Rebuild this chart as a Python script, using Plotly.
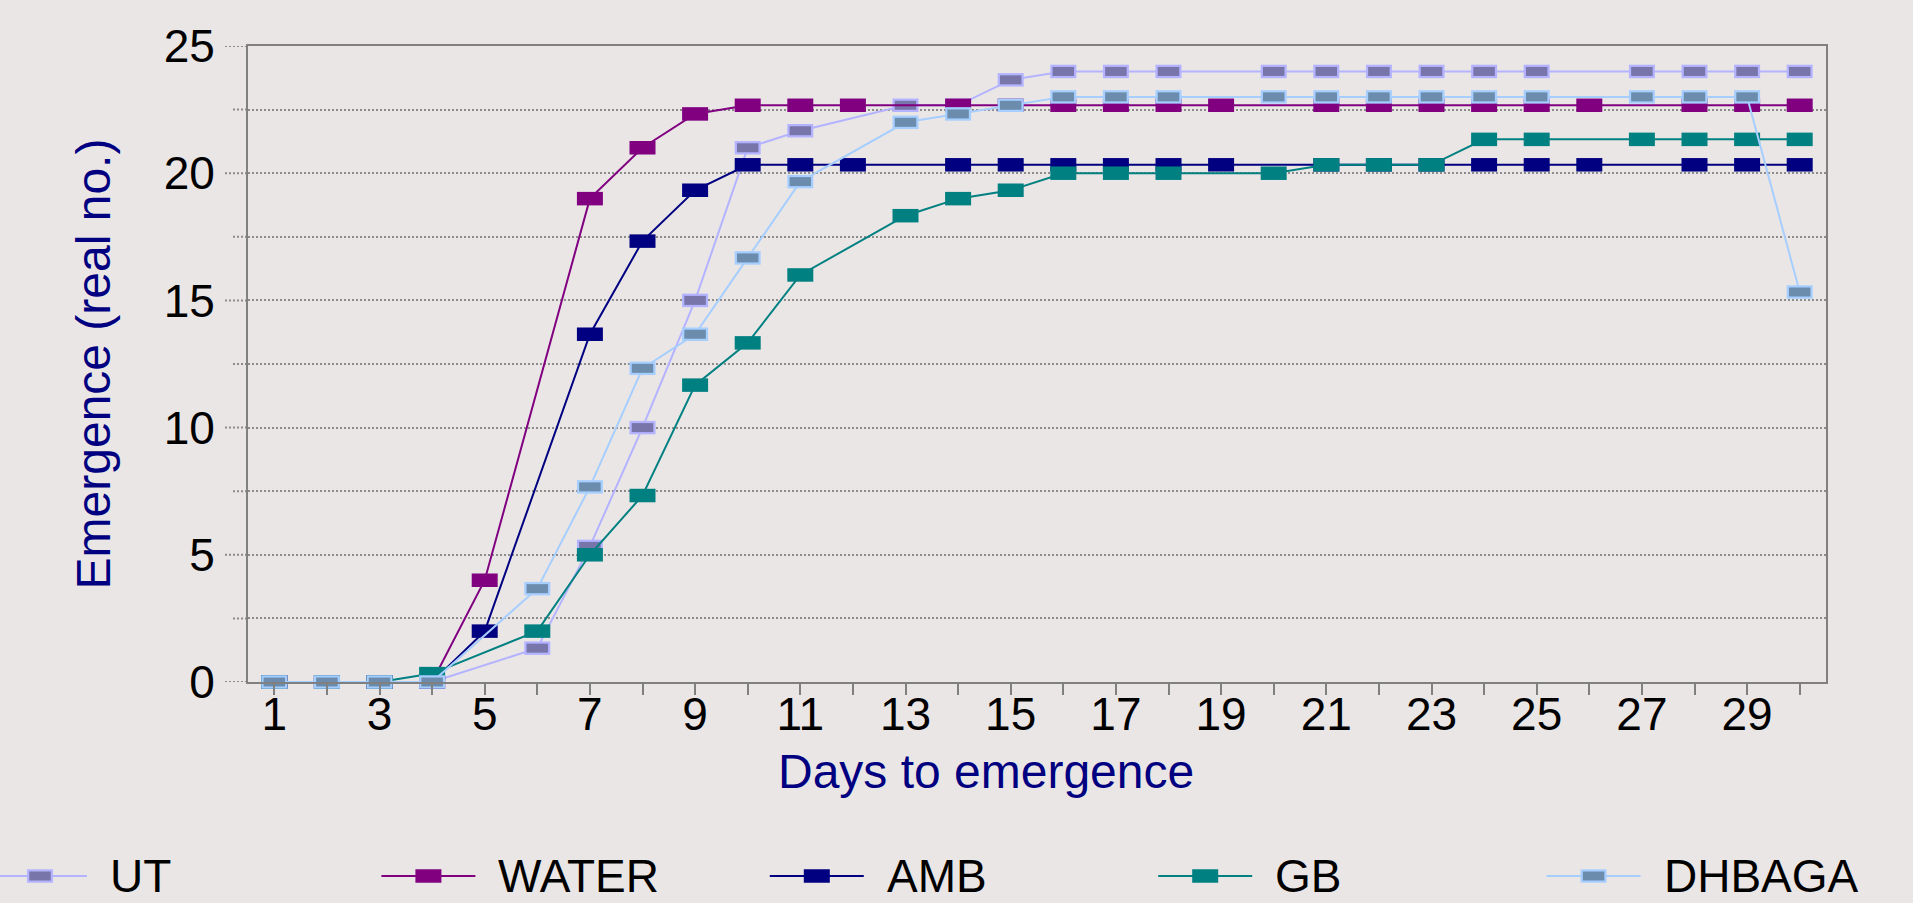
import plotly.graph_objects as go

# ---------------- data ----------------
days = list(range(1, 31))
x_tick_text = [str(d) if d % 2 else "" for d in days]
y_major_ticks = [0, 5, 10, 15, 20, 25]
y_major_text = ["0", "5", "10", "15", "20", "25"]
y_minor_ticks = [2.5, 7.5, 12.5, 17.5, 22.5]

series_names = ["UT", "WATER", "AMB", "GB", "DHBAGA"]
ut = [0, 0, 0, 0, None, 1.33, 5.33, 10, 15, 21, 21.67, None, 22.67, 22.67, 23.67,
      24, 24, 24, None, 24, 24, 24, 24, 24, 24, None, 24, 24, 24, 24]
water = [0, 0, 0, 0, 4, None, 19, 21, 22.33, 22.67, 22.67, 22.67, None, 22.67, 22.67,
         22.67, 22.67, 22.67, 22.67, None, 22.67, 22.67, 22.67, 22.67, 22.67, 22.67, None,
         22.67, 22.67, 22.67]
amb = [0, 0, 0, 0, 2, None, 13.67, 17.33, 19.33, 20.33, 20.33, 20.33, None, 20.33, 20.33,
       20.33, 20.33, 20.33, 20.33, None, 20.33, 20.33, 20.33, 20.33, 20.33, 20.33, None,
       20.33, 20.33, 20.33]
gb = [0, 0, 0, 0.33, None, 2, 5, 7.33, 11.67, 13.33, 16, None, 18.33, 19, 19.33,
      20, 20, 20, None, 20, 20.33, 20.33, 20.33, 21.33, 21.33, None, 21.33, 21.33, 21.33, 21.33]
dhbaga = [0, 0, 0, 0, None, 3.67, 7.67, 12.33, 13.67, 16.67, 19.67, None, 22, 22.33, 22.67,
          23, 23, 23, None, 23, 23, 23, 23, 23, 23, None, 23, 23, 23, 15.33]
series_values = [ut, water, amb, gb, dhbaga]

x_title = "Days to emergence"
y_title = "Emergence (real no.)"

# ---------------- styles ----------------
line_colors = ["#B3B3FF", "#800080", "#000080", "#008080", "#A6CEFF"]
fill_colors = ["#7875AB", "#800080", "#000080", "#008080", "#6B8CAD"]
bordered = [True, False, False, False, True]

W, H = 1913, 903
PL, PR, PT, PB = 248, 1826, 46, 682          # plot area in page pixels
BG = "#EBE6E6"
GRID = "#8C8C8C"
AXIS = "#808080"
NAVY = "#000080"
FONT = "Liberation Sans, Arial, Helvetica, sans-serif"
TICK_FONT = 46
MK_LEN, MK_H = 26, 13.5      # marker rectangle (outer)
IN_LEN, IN_H = 21.5, 9       # inner fill for bordered markers
LINE_W = 2
DOT = "2px,2px"
MAJ_TICK, MIN_TICK = 23, 15

# legend layout (page pixels)
LEG_X0, LEG_DX, LEG_Y = 40, 388.4, 876
LEG_HALF, LEG_TXT = 47, 68


def add_series(fig, i, x_line, y_line, x_mk, y_mk, xa, ya, clip=True):
    lc, fc = line_colors[i], fill_colors[i]
    outer = lc if bordered[i] else fc
    fig.add_trace(go.Scatter(
        x=x_line, y=y_line, mode="lines", connectgaps=True, name=series_names[i],
        line=dict(color=lc, width=LINE_W), xaxis=xa, yaxis=ya,
        showlegend=False, hoverinfo="skip"))
    fig.add_trace(go.Scatter(
        x=x_mk, y=y_mk, mode="markers", name=series_names[i], cliponaxis=clip,
        marker=dict(symbol="line-ew", size=MK_LEN / 1.4, color=outer,
                    line=dict(color=outer, width=MK_H)),
        xaxis=xa, yaxis=ya, showlegend=False))
    if bordered[i]:
        fig.add_trace(go.Scatter(
            x=x_mk, y=y_mk, mode="markers", name=series_names[i], cliponaxis=clip,
            marker=dict(symbol="line-ew", size=IN_LEN / 1.4, color=fc,
                        line=dict(color=fc, width=IN_H)),
            xaxis=xa, yaxis=ya, showlegend=False, hoverinfo="skip"))


fig = go.Figure()

# main series
for i, vals in enumerate(series_values):
    add_series(fig, i, days, vals, days, vals, "x", "y", clip=False)

# custom legend drawn on a full-page pixel axis
annotations = []
for i, name in enumerate(series_names):
    cx = LEG_X0 + i * LEG_DX
    add_series(fig, i, [cx - LEG_HALF, cx + LEG_HALF], [LEG_Y, LEG_Y], [cx], [LEG_Y], "x3", "y3")
    annotations.append(dict(
        text=name, xref="paper", yref="paper", x=(cx + LEG_TXT) / W, y=1 - LEG_Y / H,
        xanchor="left", yanchor="middle", showarrow=False,
        font=dict(family=FONT, size=46, color="black")))

annotations.append(dict(
    text=x_title, xref="paper", yref="paper", x=986 / W, y=1 - 771 / H,
    xanchor="center", yanchor="middle", showarrow=False,
    font=dict(family=FONT, size=48, color=NAVY)))

# dotted tick extensions of the gridlines, left of the value axis
shapes = []
for v, ln in [(v, MAJ_TICK) for v in y_major_ticks] + [(v, MIN_TICK) for v in y_minor_ticks]:
    shapes.append(dict(type="line", xref="x domain", yref="y",
                       x0=-ln / (PR - PL), x1=0, y0=v, y1=v,
                       line=dict(color=GRID, width=2, dash=DOT), layer="below"))

fig.update_layout(
    width=W, height=H,
    margin=dict(l=0, r=0, t=0, b=0, pad=0),
    paper_bgcolor=BG, plot_bgcolor="rgba(0,0,0,0)",
    showlegend=False,
    font=dict(family=FONT, color="black"),
    annotations=annotations,
    shapes=shapes,
    xaxis=dict(
        domain=[PL / W, PR / W], range=[0.5, 30.5], anchor="y",
        tickmode="array", tickvals=days, ticktext=x_tick_text,
        ticks="outside", ticklen=11, tickwidth=2, tickcolor=AXIS,
        tickfont=dict(family=FONT, size=TICK_FONT, color="black"), ticklabelstandoff=-20,
        showline=True, linecolor=AXIS, linewidth=2, mirror=True,
        showgrid=False, zeroline=False, automargin=False, fixedrange=True),
    xaxis2=dict(
        overlaying="x", anchor="y", range=[0.5, 30.5],
        tickmode="array", tickvals=days, ticks="inside", ticklen=11, tickwidth=2,
        tickcolor=AXIS, showticklabels=False, showline=False, showgrid=False,
        zeroline=False, fixedrange=True),
    yaxis=dict(
        domain=[1 - PB / H, 1 - PT / H], range=[0, 25], anchor="x",
        tickmode="array", tickvals=y_major_ticks, ticktext=y_major_text,
        ticks="outside", ticklen=22, tickwidth=1, tickcolor="rgba(0,0,0,0)",
        tickfont=dict(family=FONT, size=TICK_FONT, color="black"), ticklabelstandoff=0,
        showgrid=True, gridcolor=GRID, gridwidth=2, griddash=DOT,
        minor=dict(tickvals=y_minor_ticks, showgrid=True, gridcolor=GRID, gridwidth=2,
                   griddash=DOT),
        showline=True, linecolor=AXIS, linewidth=2, mirror=True, zeroline=False,
        title=dict(text=y_title, font=dict(family=FONT, size=48, color=NAVY), standoff=38),
        automargin=False, fixedrange=True),
    xaxis3=dict(domain=[0, 1], range=[0, W], visible=False, anchor="y3", fixedrange=True),
    yaxis3=dict(domain=[0, 1], range=[H, 0], visible=False, anchor="x3", fixedrange=True),
)

fig.write_html("out.html", config={"displayModeBar": False},
               post_script="document.body.style.margin='0';document.body.style.overflow='hidden';")
